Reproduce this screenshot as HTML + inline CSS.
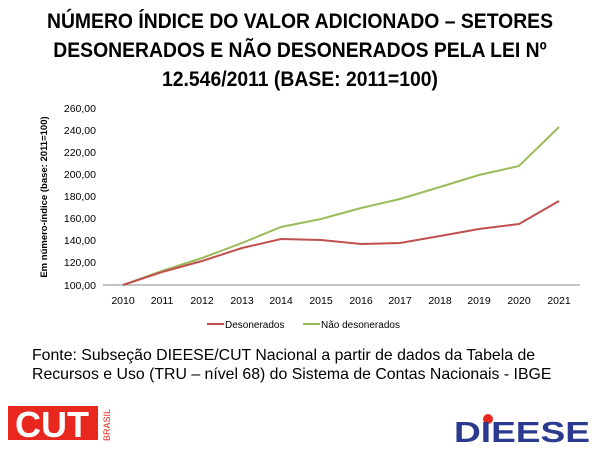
<!DOCTYPE html>
<html><head><meta charset="utf-8"><style>
body{margin:0;width:600px;height:449px;background:#fff;overflow:hidden;font-family:"Liberation Sans",sans-serif;position:relative}
.t{position:absolute;left:0;width:600px;top:7px;text-align:center;font-weight:bold;font-size:21.5px;line-height:29px;color:#000;transform:scaleX(0.9);transform-origin:300px 0}
.src{position:absolute;left:32px;top:346px;font-size:16px;line-height:19px;color:#000;transform:scaleX(0.99);transform-origin:0 0;white-space:nowrap}
</style></head><body>
<div class="t">NÚMERO ÍNDICE DO VALOR ADICIONADO – SETORES<br>DESONERADOS E NÃO DESONERADOS PELA LEI Nº<br>12.546/2011 (BASE: 2011=100)</div>
<svg width="600" height="449" style="position:absolute;left:0;top:0">
<g font-family="Liberation Sans,sans-serif" font-size="10.5" fill="#000">
<g text-anchor="end">
<text x="96" y="112">260,00</text><text x="96" y="134">240,00</text><text x="96" y="156">220,00</text><text x="96" y="178">200,00</text><text x="96" y="200">180,00</text><text x="96" y="222">160,00</text><text x="96" y="244">140,00</text><text x="96" y="266">120,00</text><text x="96" y="289">100,00</text>
</g>
<line x1="103" y1="285" x2="580" y2="285" stroke="#888"/>
<g text-anchor="middle">
<text x="123" y="304">2010</text><text x="162" y="304">2011</text><text x="202" y="304">2012</text><text x="242" y="304">2013</text><text x="281" y="304">2014</text><text x="321" y="304">2015</text><text x="361" y="304">2016</text><text x="400" y="304">2017</text><text x="440" y="304">2018</text><text x="479" y="304">2019</text><text x="519" y="304">2020</text><text x="559" y="304">2021</text>
</g>
<text transform="translate(47,197) rotate(-90)" text-anchor="middle" font-weight="bold" font-size="9.5">Em número-índice (base: 2011=100)</text>
<polyline fill="none" stroke="#9bbb59" stroke-width="2" points="123,285 162,271 202,258 242,243 281,227 321,219 361,208 400,199 440,187 479,175 519,166 559,127"/>
<polyline fill="none" stroke="#c0504d" stroke-width="2" points="123,285 162,272 202,261 242,248 281,239 321,240 361,244 400,243 440,236 479,229 519,224 559,201"/>
<line x1="207" y1="324" x2="224" y2="324" stroke="#c0504d" stroke-width="2"/>
<text x="225" y="328" font-size="10">Desonerados</text>
<line x1="303" y1="324" x2="320" y2="324" stroke="#9bbb59" stroke-width="2"/>
<text x="321" y="328" font-size="10">Não desonerados</text>
<rect x="8" y="406" width="90" height="34" fill="#e8271f"/>
<text x="52" y="437" text-anchor="middle" font-size="36" font-weight="bold" fill="#fff">CUT</text>
<text transform="translate(110,441) rotate(-90)" font-size="9" fill="#e8271f">BRASIL</text>
<circle cx="488" cy="419" r="5" fill="#e8271f"/>
<text x="522" y="442" text-anchor="middle" font-size="29" font-weight="bold" fill="#2b3a8f" textLength="136" lengthAdjust="spacingAndGlyphs">DIEESE</text>
</g></svg>
<div class="src">Fonte: Subseção DIEESE/CUT Nacional a partir de dados da Tabela de<br>Recursos e Uso (TRU – nível 68) do Sistema de Contas Nacionais - IBGE</div>
</body></html>
